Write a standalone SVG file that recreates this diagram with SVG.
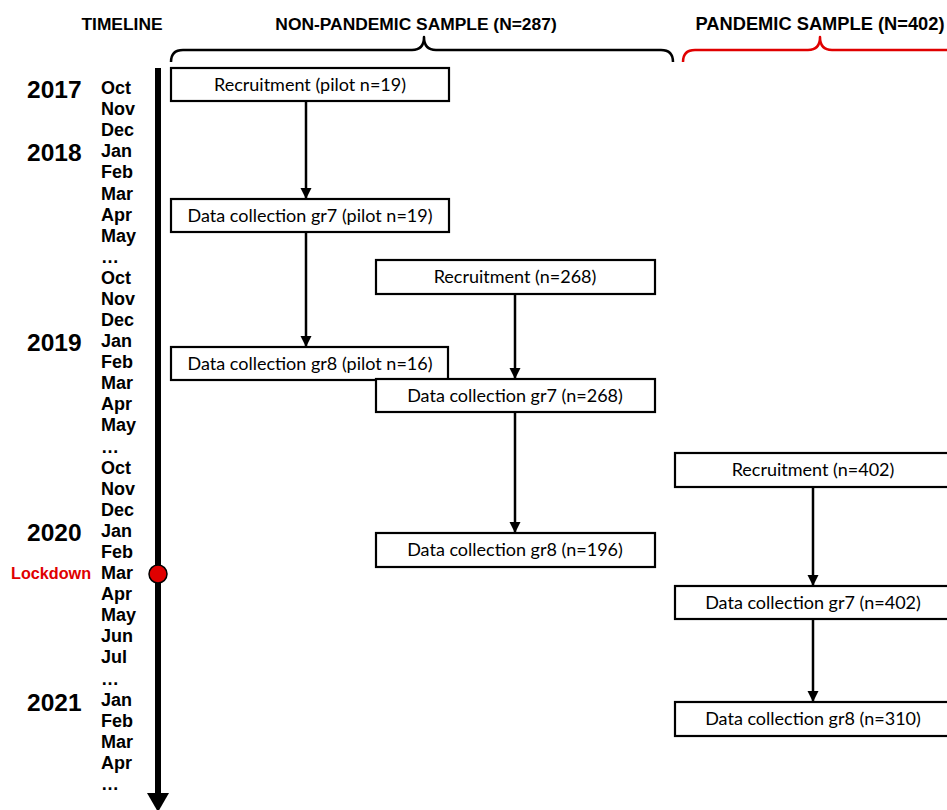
<svg xmlns="http://www.w3.org/2000/svg" width="947" height="810" viewBox="0 0 947 810">
<defs>
<style>
.hdr{font-family:"Liberation Sans",Arial,sans-serif;font-weight:bold;font-size:17.4px;fill:#000;text-anchor:middle}
.mo{font-family:"Liberation Sans",Arial,sans-serif;font-weight:bold;font-size:18px;fill:#000}
.yr{font-family:"Liberation Sans",Arial,sans-serif;font-weight:bold;font-size:24.5px;fill:#000}
.box rect{fill:#fff;stroke:#000;stroke-width:2.2}
.box text{font-family:Lato,"Open Sans",sans-serif;font-size:18px;fill:#000;text-anchor:middle}
.conn line{stroke:#000;stroke-width:2.5;marker-end:url(#ah)}
.brace{fill:none;stroke-width:2.5;stroke-linejoin:round}
</style>
<marker id="ah" markerWidth="12" markerHeight="12" refX="10" refY="5.5" orient="auto" markerUnits="userSpaceOnUse">
<path d="M0,0 L11,5.5 L0,11 Z" fill="#000"/>
</marker>
</defs>
<rect width="947" height="810" fill="#fff"/>

<g id="headers">
<text class="hdr" x="416" y="30">NON-PANDEMIC SAMPLE (N=287)</text>
<text class="hdr" x="122" y="30">TIMELINE</text>
<text class="hdr" x="820" y="30" style="font-size:18.3px">PANDEMIC SAMPLE (N=402)</text>
</g>

<g id="braces">
<path class="brace" stroke="#000" d="M171,62 Q171,50 183,50 L412,50 Q424,50 424,37 Q424,50 436,50 L661,50 Q673,50 673,62"/>
<path class="brace" stroke="#e00000" d="M683,62 Q683,50 695,50 L808,50 Q820,50 820,37 Q820,50 832,50 L950,50"/>
</g>

<g id="timeline">
<rect x="155" y="68" width="6" height="727" fill="#000"/>
<path d="M147,793 L169,793 L158,812 Z" fill="#000"/>
<circle cx="158" cy="574" r="9" fill="#e00000" stroke="#000" stroke-width="1.5"/>
</g>

<g id="years">
<text class="yr" x="27" y="98">2017</text>
<text class="yr" x="27" y="161">2018</text>
<text class="yr" x="27" y="351">2019</text>
<text class="yr" x="27" y="541">2020</text>
<text class="yr" x="27" y="711">2021</text>
<text x="11" y="579" font-family="Liberation Sans, Arial, sans-serif" font-weight="bold" font-size="16.2" fill="#e00000">Lockdown</text>
</g>

<g id="months">
<text class="mo" x="101" y="94">Oct</text>
<text class="mo" x="101" y="115.1">Nov</text>
<text class="mo" x="101" y="136.2">Dec</text>
<text class="mo" x="101" y="157.3">Jan</text>
<text class="mo" x="101" y="178.4">Feb</text>
<text class="mo" x="101" y="199.5">Mar</text>
<text class="mo" x="101" y="220.5">Apr</text>
<text class="mo" x="101" y="241.6">May</text>
<text class="mo" x="101" y="262.7">…</text>
<text class="mo" x="101" y="283.8">Oct</text>
<text class="mo" x="101" y="304.9">Nov</text>
<text class="mo" x="101" y="326">Dec</text>
<text class="mo" x="101" y="347.1">Jan</text>
<text class="mo" x="101" y="368.2">Feb</text>
<text class="mo" x="101" y="389.3">Mar</text>
<text class="mo" x="101" y="410.4">Apr</text>
<text class="mo" x="101" y="431.4">May</text>
<text class="mo" x="101" y="452.5">…</text>
<text class="mo" x="101" y="473.6">Oct</text>
<text class="mo" x="101" y="494.7">Nov</text>
<text class="mo" x="101" y="515.8">Dec</text>
<text class="mo" x="101" y="536.9">Jan</text>
<text class="mo" x="101" y="558">Feb</text>
<text class="mo" x="101" y="579.1">Mar</text>
<text class="mo" x="101" y="600.2">Apr</text>
<text class="mo" x="101" y="621.3">May</text>
<text class="mo" x="101" y="642.3">Jun</text>
<text class="mo" x="101" y="663.4">Jul</text>
<text class="mo" x="101" y="684.5">…</text>
<text class="mo" x="101" y="705.6">Jan</text>
<text class="mo" x="101" y="726.7">Feb</text>
<text class="mo" x="101" y="747.8">Mar</text>
<text class="mo" x="101" y="768.9">Apr</text>
<text class="mo" x="101" y="790">…</text>
</g>

<g id="connectors" class="conn">
<line x1="306" y1="101" x2="306" y2="198"/>
<line x1="306" y1="232" x2="306" y2="346"/>
<line x1="515" y1="294" x2="515" y2="378"/>
<line x1="515" y1="412" x2="515" y2="532"/>
<line x1="813" y1="487" x2="813" y2="585"/>
<line x1="813" y1="619" x2="813" y2="701"/>
</g>

<g id="n1" class="box"><rect x="171" y="68" width="278" height="33"/><text x="310" y="91">Recruitment (pilot n=19)</text></g>
<g id="n2" class="box"><rect x="171" y="199" width="278" height="33"/><text x="310" y="222">Data collection gr7 (pilot n=19)</text></g>
<g id="n3" class="box"><rect x="171" y="347" width="277" height="33"/><text x="310" y="370">Data collection gr8 (pilot n=16)</text></g>
<g id="n4" class="box"><rect x="376" y="260" width="279" height="34"/><text x="515" y="283">Recruitment (n=268)</text></g>
<g id="n5" class="box"><rect x="376" y="379" width="279" height="33"/><text x="515" y="402">Data collection gr7 (n=268)</text></g>
<g id="n6" class="box"><rect x="376" y="533" width="279" height="34"/><text x="515" y="556">Data collection gr8 (n=196)</text></g>
<g id="n7" class="box"><rect x="675" y="453" width="276" height="34"/><text x="813" y="476">Recruitment (n=402)</text></g>
<g id="n8" class="box"><rect x="675" y="586" width="276" height="33"/><text x="813" y="609">Data collection gr7 (n=402)</text></g>
<g id="n9" class="box"><rect x="675" y="702" width="276" height="34"/><text x="813" y="725">Data collection gr8 (n=310)</text></g>
</svg>
